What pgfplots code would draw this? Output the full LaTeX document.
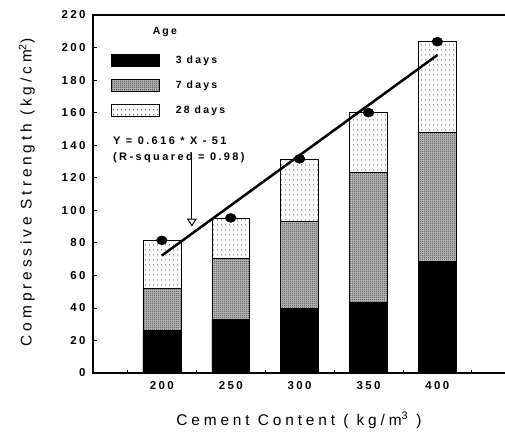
\documentclass[border=0pt]{standalone}
\usepackage{fontspec}
\setmainfont{Liberation Sans}
\usepackage{pgfplots}
\usepackage{pgfplotstable}
\pgfplotsset{compat=1.18}
\usetikzlibrary{patterns.meta, arrows.meta}

\newfontfamily\tickfont[LetterSpace=21]{Liberation Sans}
\newfontfamily\labelfont[LetterSpace=25]{Liberation Sans}
\newfontfamily\notefont[LetterSpace=22]{Liberation Sans}

% dense stipple for 7 days, sparse stipple for 28 days
\tikzdeclarepattern{
  name=finedots,
  type=uncolored,
  bounding box={(0,0) and (2bp,2bp)},
  tile size={(2bp,2bp)},
  code={\fill (1bp,1bp) circle (0.7bp);}
}
\tikzdeclarepattern{
  name=sparsedots,
  type=uncolored,
  bounding box={(0,0) and (4bp,5bp)},
  tile size={(4bp,5bp)},
  code={\fill (2bp,2.5bp) circle (0.55bp);}
}

\pgfplotsset{
  swatch/.style={legend image code/.code={\draw[##1] (0bp,-6.25bp) rectangle (48bp,6.25bp);}},
}

% compressive strength (kg/cm^2) by cement content and age
\pgfplotstableread{
cement d3   d7    d28
200    26.3 52.0  81.5
250    33.0 70.7  95.3
300    39.9 93.2  131.6
350    43.5 123.4 160.0
400    68.6 148.0 203.6
}\strength

% least-squares line Y = 0.616 X - 51
\pgfplotstableread{
cement fit
200    72.2
400    195.4
}\fitline

\begin{document}
\begin{tikzpicture}
\begin{axis}[
  at={(0,0)}, anchor=south west,
  scale only axis, width=416bp, height=358bp,
  xmin=150, xmax=452, ymin=0, ymax=220,
  xtick={200,250,...,400}, minor xtick={175,225,...,425},
  ytick={0,20,...,220},
  tick pos=left, tick align=inside,
  major tick length=4bp, minor tick length=3bp,
  axis line style={line width=1.2bp},
  every tick/.style={line width=0.8bp, black},
  /pgf/number format/assume math mode=true,
  ticklabel style={font=\tickfont\bfseries\fontsize{11.5}{13}\selectfont},
  yticklabel style={xshift=-4bp},
  xticklabel style={yshift=-5bp},
  xlabel={Cement Content ( kg/m\textsuperscript{3} )},
  ylabel={Compressive Strength (kg/cm\textsuperscript{2})},
  label style={font=\labelfont\fontsize{15.5}{18}\selectfont},
  xlabel style={at={(axis description cs:0.495,-0.132)}, anchor=center},
  ylabel style={at={(axis description cs:-0.159,0.505)}, anchor=center},
  legend style={draw=none, fill=none, at={(axis description cs:0.036,0.978)}, anchor=north west,
    font=\tickfont\bfseries\fontsize{10.5}{12}\selectfont, row sep=12bp, column sep=14bp},
  legend cell align=left,
  reverse legend,
  clip=false,
]
\addplot[ybar, bar width=27.5, bar shift=0pt, draw=black, line width=0.6bp,
  preaction={fill=white}, pattern=sparsedots, pattern color=black, swatch]
  table[x=cement, y=d28] {\strength};
\addlegendentry{28 days}
\addplot[ybar, bar width=27.5, bar shift=0pt, draw=black, line width=0.6bp,
  preaction={fill=black!30}, pattern=finedots, pattern color=black!80, swatch]
  table[x=cement, y=d7] {\strength};
\addlegendentry{7 days}
\addplot[ybar, bar width=27.5, bar shift=0pt, draw=black, line width=0.6bp,
  fill=black, swatch]
  table[x=cement, y=d3] {\strength};
\addlegendentry{3 days}
\addlegendimage{empty legend}
\addlegendentry{\hspace*{-23bp}\raisebox{4bp}{Age}}

\addplot[forget plot, black, line width=2.5bp] table[x=cement, y=fit] {\fitline};
\addplot[forget plot, only marks, mark=*, mark size=4.5bp,
  mark options={xscale=1.2, fill=black}] table[x=cement, y=d28] {\strength};

\node[anchor=north west, align=left, inner sep=0pt,
  font=\notefont\bfseries\fontsize{11}{16}\selectfont]
  at (axis cs:164.5,145.4) {Y = 0.616 * X - 51\\(R-squared = 0.98)};
\draw[line width=1bp, -{Triangle[open, length=8bp, width=10bp]}]
  (axis cs:221.8,132) -- (axis cs:221.8,90);
\end{axis}
\pgfresetboundingbox
\path[use as bounding box] (-93bp,-59bp) rectangle (412bp,373bp);
\end{tikzpicture}
\end{document}
